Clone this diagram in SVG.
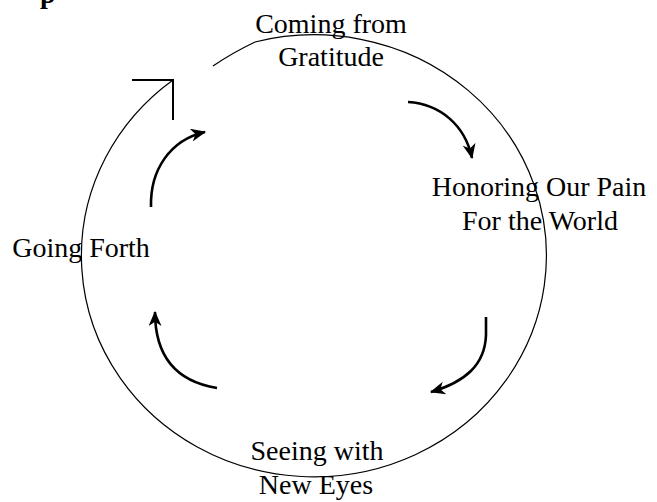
<svg xmlns="http://www.w3.org/2000/svg" width="657" height="502" viewBox="0 0 657 502">
<style>
  .lbl { font-family: "Liberation Serif", "Times New Roman", serif; font-size: 28px; fill: #000; text-anchor: middle; }
  .cyc { fill: none; stroke: #000; stroke-width: 1.2; }
  .head { fill: none; stroke: #000; stroke-width: 2; }
  .arr { fill: none; stroke: #000; stroke-width: 2.6; marker-end: url(#ah); }
</style>
<defs>
  <marker id="ah" viewBox="0 0 14 12" refX="13" refY="6" markerWidth="16" markerHeight="13" markerUnits="userSpaceOnUse" orient="auto">
    <path d="M0,0 L14,6 L0,12 L4,6 Z" fill="#000"/>
  </marker>
</defs>
<rect width="657" height="502" fill="#fff"/>
<text x="40" y="3" style="font-family:'Liberation Serif',serif;font-size:28px;font-weight:bold">p</text>
<g id="connectors">
  <path id="cycle" class="cyc" d="M213,66 Q232,53 255,42 A232.5,221 0 1 1 173,80"/>
  <path id="cycle-head" class="head" d="M132,80 L173,80 L173,120"/>
  <path id="arrow-1" class="arr" d="M408,102 C440,104 465,125 472,158"/>
  <path id="arrow-2" class="arr" d="M486,317 L486,335 C485,365 465,382 431,392"/>
  <path id="arrow-3" class="arr" d="M217,388 C180,382 155,360 155,312"/>
  <path id="arrow-4" class="arr" d="M151,207 C150,170 170,140 205,132"/>
</g>
<g id="node-gratitude">
  <text class="lbl" x="331" y="33">Coming from</text>
  <text class="lbl" x="331" y="66">Gratitude</text>
</g>
<g id="node-pain">
  <text class="lbl" x="539" y="196">Honoring Our Pain</text>
  <text class="lbl" x="540" y="230">For the World</text>
</g>
<g id="node-seeing">
  <text class="lbl" x="317" y="460">Seeing with</text>
  <text class="lbl" x="316" y="494">New Eyes</text>
</g>
<g id="node-going">
  <text class="lbl" x="81" y="257">Going Forth</text>
</g>
</svg>
